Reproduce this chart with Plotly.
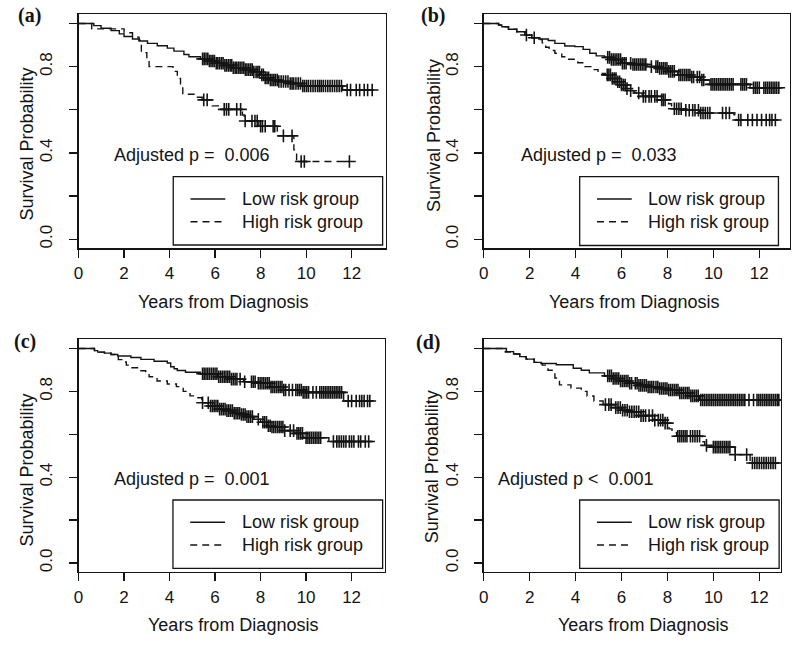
import plotly.graph_objects as go

W, H = 800, 645

# ---------------- data ----------------
panel_labels = ["(a)", "(b)", "(c)", "(d)"]
p_texts = ["Adjusted p =\u00a0 0.006", "Adjusted p =\u00a0 0.033",
           "Adjusted p =\u00a0 0.001", "Adjusted p <\u00a0 0.001"]
p_text_x = [5.0, 5.0, 5.0, 4.0]
p_text_y = [0.39, 0.39, 0.39, 0.39]
legend_names = ["Low risk group", "High risk group"]
x_ticks = [0, 2, 4, 6, 8, 10, 12]
y_ticks = [0.0, 0.2, 0.4, 0.6, 0.8, 1.0]
y_ticktext = ["0.0", "", "0.4", "", "0.8", ""]
x_title = "Years from Diagnosis"
y_title = "Survival Probability"

# Panel (a)
a_low_t = [0, 0.67, 0.99, 1.43, 1.79, 2.0, 2.37, 2.66, 3.03, 3.46, 3.9, 4.19, 4.63, 4.85, 5.36,
           5.7, 6.0, 6.4, 6.8, 7.3, 7.7, 8.0, 8.2, 8.4, 8.8, 9.3, 9.8, 11.6, 12.95]
a_low_s = [1, 0.99, 0.978, 0.967, 0.952, 0.94, 0.928, 0.919, 0.908, 0.897, 0.886, 0.872, 0.856, 0.846, 0.836,
           0.826, 0.816, 0.806, 0.795, 0.786, 0.775, 0.762, 0.748, 0.738, 0.731, 0.722, 0.71, 0.692, 0.692]
a_low_c = [5.45, 5.52, 5.6, 5.68, 5.75, 5.82, 5.9, 5.97, 6.05, 6.12, 6.2, 6.28, 6.35, 6.43, 6.5, 6.58, 6.66,
           6.73, 6.8, 6.88, 6.95, 7.03, 7.1, 7.18, 7.26, 7.33, 7.4, 7.48, 7.56, 7.63, 7.7, 7.8, 7.88, 7.95,
           8.05, 8.12, 8.2, 8.28, 8.35, 8.43, 8.5, 8.58, 8.65, 8.73, 8.8, 8.9, 9.0, 9.1, 9.2, 9.3, 9.38, 9.45,
           9.55, 9.65, 9.75, 9.85, 9.93, 10.02, 10.1, 10.2, 10.3, 10.4, 10.5, 10.58, 10.66, 10.75, 10.85,
           10.95, 11.05, 11.15, 11.25, 11.35, 11.45, 11.55, 11.8, 11.95, 12.2, 12.35, 12.55, 12.7, 12.9]
a_high_t = [0, 0.58, 2.0, 2.37, 2.66, 2.76, 3.0, 3.1, 4.15, 4.34, 4.48, 4.58, 5.07, 5.43, 5.87, 6.23,
            7.2, 7.28, 7.92, 8.73, 9.46, 9.58, 11.9]
a_high_s = [1, 0.975, 0.957, 0.937, 0.922, 0.865, 0.83, 0.80, 0.778, 0.745, 0.705, 0.672, 0.658, 0.646,
            0.618, 0.602, 0.576, 0.548, 0.524, 0.479, 0.414, 0.36, 0.36]
a_high_c = [5.5, 5.65, 6.4, 6.5, 6.6, 6.95, 7.12, 7.32, 7.62, 7.75, 7.85, 8.0, 8.08, 8.2, 8.55, 8.62,
            9.0, 9.38, 9.78, 9.92, 11.9]

# Panel (b)
b_low_t = [0, 0.65, 0.79, 1.08, 1.44, 1.8, 2.09, 2.4, 2.81, 3.1, 3.53, 3.97, 4.33, 4.62, 4.9, 5.26, 5.55,
           6.0, 6.5, 7.1, 7.6, 8.0, 8.45, 9.0, 9.45, 9.85, 11.6, 12.97]
b_low_s = [1, 0.993, 0.985, 0.973, 0.962, 0.947, 0.934, 0.928, 0.921, 0.908, 0.896, 0.893, 0.88, 0.862,
           0.85, 0.843, 0.833, 0.816, 0.81, 0.80, 0.792, 0.778, 0.761, 0.752, 0.738, 0.718, 0.702, 0.702]
b_low_c = [1.86, 2.2, 5.4, 5.48, 5.56, 5.64, 5.72, 5.8, 5.88, 5.96, 6.04, 6.12, 6.2, 6.4, 6.5, 6.58, 6.66,
           6.74, 6.82, 6.9, 6.98, 7.06, 7.3, 7.5, 7.58, 7.66, 7.74, 7.82, 7.9, 7.98, 8.06, 8.14, 8.22, 8.3,
           8.5, 8.58, 8.66, 8.74, 8.82, 8.9, 8.98, 9.06, 9.14, 9.3, 9.4, 9.5, 9.58, 9.9, 9.98, 10.06, 10.14,
           10.22, 10.3, 10.38, 10.46, 10.54, 10.62, 10.7, 10.78, 10.86, 11.2, 11.28, 11.36, 11.44, 11.75,
           11.83, 11.91, 12.0, 12.2, 12.28, 12.36, 12.44, 12.52, 12.6, 12.68, 12.76, 12.85]
b_high_t = [0, 0.65, 0.79, 1.08, 1.44, 1.8, 2.09, 2.4, 2.55, 2.7, 2.85, 3.1, 3.4, 3.7, 4.1, 4.4, 4.7,
            4.98, 5.3, 5.6, 5.8, 6.0, 6.2, 6.35, 6.55, 6.9, 7.6, 8.05, 8.18, 8.7, 9.4, 10.9, 11.0, 12.84]
b_high_s = [1, 0.993, 0.985, 0.973, 0.962, 0.947, 0.934, 0.926, 0.91, 0.89, 0.875, 0.862, 0.846, 0.834,
            0.818, 0.80, 0.786, 0.768, 0.762, 0.745, 0.73, 0.715, 0.698, 0.688, 0.678, 0.662, 0.646, 0.628,
            0.605, 0.598, 0.585, 0.577, 0.553, 0.553]
b_high_c = [5.38, 5.45, 5.52, 5.6, 5.68, 5.76, 5.84, 5.92, 6.0, 6.08, 6.16, 6.24, 6.4, 6.75, 6.95, 7.05,
            7.2, 7.3, 7.45, 7.55, 7.75, 7.82, 7.9, 8.3, 8.4, 8.5, 8.6, 8.8, 8.95, 9.1, 9.2, 9.35, 9.45, 9.55,
            9.65, 9.75, 9.85, 10.4, 10.55, 10.7, 11.1, 11.2, 11.5, 11.7, 11.9, 12.1, 12.3, 12.45, 12.55, 12.7]

# Panel (c)
c_low_t = [0, 0.7, 0.84, 1.14, 1.43, 1.72, 2.3, 2.74, 3.32, 3.9, 4.05, 4.2, 4.34, 4.7, 5.36, 6.1, 6.67,
           7.25, 7.83, 8.42, 9.0, 9.87, 11.65, 12.93]
c_low_s = [1, 0.99, 0.983, 0.978, 0.972, 0.965, 0.958, 0.949, 0.94, 0.932, 0.915, 0.905, 0.897, 0.889,
           0.882, 0.868, 0.857, 0.845, 0.838, 0.82, 0.806, 0.795, 0.755, 0.755]
c_low_c = [5.45, 5.52, 5.6, 5.68, 5.76, 5.84, 5.92, 6.0, 6.08, 6.16, 6.24, 6.32, 6.4, 6.48, 6.56, 6.64,
           6.72, 6.8, 6.88, 6.96, 7.1, 7.3, 7.6, 7.68, 7.76, 7.9, 7.98, 8.06, 8.14, 8.22, 8.3, 8.38, 8.46,
           8.54, 8.62, 8.7, 8.78, 8.86, 8.94, 9.02, 9.1, 9.25, 9.4, 9.55, 9.63, 9.71, 9.79, 9.87, 9.95,
           10.03, 10.11, 10.3, 10.45, 10.6, 10.68, 10.76, 10.84, 10.92, 11.0, 11.08, 11.16, 11.24, 11.32,
           11.4, 11.48, 11.56, 11.85, 12.0, 12.2, 12.35, 12.45, 12.55, 12.7, 12.8]
c_high_t = [0, 0.7, 0.84, 1.14, 1.43, 1.6, 1.75, 1.9, 2.1, 2.35, 2.7, 2.95, 3.1, 3.45, 3.9, 4.3, 4.6,
            4.9, 5.1, 5.42, 5.8, 6.2, 6.5, 6.8, 7.1, 7.4, 7.7, 8.0, 8.3, 8.5, 9.0, 9.5, 9.9, 11.0, 12.93]
c_high_s = [1, 0.99, 0.983, 0.978, 0.972, 0.96, 0.948, 0.937, 0.922, 0.91, 0.896, 0.882, 0.868, 0.848,
            0.834, 0.822, 0.8, 0.779, 0.77, 0.747, 0.732, 0.717, 0.71, 0.698, 0.692, 0.682, 0.67, 0.656,
            0.64, 0.634, 0.617, 0.604, 0.584, 0.566, 0.566]
c_high_c = [5.45, 5.7, 5.8, 5.88, 5.96, 6.04, 6.12, 6.2, 6.28, 6.36, 6.44, 6.52, 6.6, 6.68, 6.76, 6.84,
            6.92, 7.0, 7.08, 7.16, 7.24, 7.32, 7.4, 7.48, 7.56, 7.64, 7.9, 8.1, 8.18, 8.26, 8.34, 8.42, 8.5,
            8.58, 8.66, 8.74, 8.82, 8.9, 8.98, 9.06, 9.3, 9.45, 9.6, 9.68, 9.76, 9.84, 10.0, 10.08, 10.16,
            10.24, 10.32, 10.4, 10.48, 10.56, 10.64, 11.2, 11.35, 11.45, 11.55, 11.65, 11.75, 11.9, 12.0,
            12.1, 12.3, 12.4, 12.6, 12.75]

# Panel (d)
d_low_t = [0, 0.99, 1.3, 1.57, 1.85, 2.2, 2.5, 3.16, 3.9, 4.25, 4.6, 5.26, 5.6, 5.9, 6.3, 6.7, 7.1, 7.6,
           8.0, 8.5, 9.0, 9.4, 12.87]
d_low_s = [1, 0.985, 0.974, 0.962, 0.95, 0.935, 0.93, 0.924, 0.908, 0.898, 0.886, 0.872, 0.86, 0.848,
           0.838, 0.828, 0.82, 0.813, 0.806, 0.792, 0.779, 0.76, 0.76]
d_low_c = [5.4, 5.48, 5.56, 5.64, 5.72, 5.8, 5.88, 5.96, 6.04, 6.12, 6.2, 6.28, 6.36, 6.44, 6.6, 6.68,
           6.76, 6.84, 6.92, 7.0, 7.08, 7.16, 7.24, 7.32, 7.4, 7.5, 7.58, 7.66, 7.74, 7.82, 7.9, 7.98, 8.06,
           8.14, 8.22, 8.3, 8.38, 8.46, 8.54, 8.62, 8.7, 8.78, 8.86, 8.94, 9.02, 9.1, 9.18, 9.26, 9.34, 9.45,
           9.53, 9.61, 9.69, 9.77, 9.85, 9.93, 10.01, 10.09, 10.17, 10.25, 10.33, 10.41, 10.49, 10.57,
           10.65, 10.73, 10.81, 10.89, 10.97, 11.05, 11.13, 11.21, 11.29, 11.37, 11.55, 11.75, 11.9, 11.98,
           12.06, 12.14, 12.22, 12.3, 12.38, 12.46, 12.54, 12.62, 12.7, 12.78, 12.85]
d_high_t = [0, 0.94, 1.3, 1.57, 1.85, 2.2, 2.4, 2.55, 2.8, 3.1, 3.3, 3.8, 4.25, 4.5, 4.8, 5.2, 5.65, 6.0,
            6.3, 6.85, 7.4, 7.85, 8.07, 8.2, 8.4, 9.5, 9.62, 9.85, 10.95, 11.6, 12.85]
d_high_s = [1, 0.983, 0.974, 0.962, 0.95, 0.935, 0.93, 0.922, 0.898, 0.862, 0.83, 0.815, 0.8, 0.778,
            0.755, 0.738, 0.724, 0.712, 0.705, 0.687, 0.666, 0.652, 0.625, 0.608, 0.591, 0.565, 0.548,
            0.54, 0.505, 0.466, 0.466]
d_high_c = [5.3, 5.45, 5.55, 5.75, 5.85, 5.95, 6.05, 6.15, 6.25, 6.35, 6.45, 6.55, 6.65, 6.75, 6.85,
            6.95, 7.05, 7.2, 7.35, 7.45, 7.6, 7.7, 7.8, 7.9, 8.0, 8.45, 8.53, 8.61, 8.69, 8.77, 8.85, 9.0,
            9.1, 9.2, 9.3, 9.4, 9.7, 10.0, 10.08, 10.16, 10.24, 10.32, 10.4, 10.48, 10.56, 10.64, 10.72,
            10.95, 11.45, 11.7, 11.8, 11.9, 12.0, 12.1, 12.2, 12.3, 12.4, 12.5, 12.6, 12.7]

x_max = [13.49, 13.34, 13.45, 12.95]

curves = [
    (a_low_t, a_low_s, a_low_c, a_high_t, a_high_s, a_high_c),
    (b_low_t, b_low_s, b_low_c, b_high_t, b_high_s, b_high_c),
    (c_low_t, c_low_s, c_low_c, c_high_t, c_high_s, c_high_c),
    (d_low_t, d_low_s, d_low_c, d_high_t, d_high_s, d_high_c),
]

# ---------------- layout (pixel boxes) ----------------
boxes = [(74, 14, 383, 248.3), (481.7, 14, 790, 248.3),
         (74, 339, 382, 572), (481.7, 339, 781, 572)]
legend_boxes = [(169.3, 176.7, 380, 245), (578.3, 176.7, 778.3, 245.5),
                (169, 500, 380, 568.3), (578.3, 500, 779, 568.3)]
label_pos = [(24.7, 15), (430.5, 15), (20, 341), (426, 342)]
xtitle_pos = [(219, 302), (632.5, 302), (229, 625), (642.5, 625)]
ytitle_pos = [(21.7, 144), (431.7, 136), (21.7, 470), (430, 467)]

INK = "#141414"
SANS = "Liberation Sans, Arial, sans-serif"
SERIF = "Liberation Serif, Times New Roman, serif"


def fx(px):
    return px / W


def fy(py):
    return 1 - py / H


def step_value(ts, ss, t):
    v = ss[0]
    for ti, si in zip(ts, ss):
        if ti <= t:
            v = si
        else:
            break
    return v


fig = go.Figure()
layout = dict(width=W, height=H, margin=dict(l=0, r=0, t=0, b=0),
              paper_bgcolor="white", plot_bgcolor="white", showlegend=False,
              shapes=[], annotations=[])

for i, (lt, ls, lc, ht, hs, hc) in enumerate(curves):
    k = "" if i == 0 else str(i + 1)
    xa, ya = "x" + k, "y" + k
    fig.add_trace(go.Scatter(x=lt, y=ls, mode="lines", line=dict(color=INK, width=1.4, shape="hv"),
                             xaxis=xa, yaxis=ya, name=legend_names[0], hoverinfo="skip"))
    fig.add_trace(go.Scatter(x=ht, y=hs, mode="lines",
                             line=dict(color=INK, width=1.4, shape="hv", dash="7px,5px"),
                             xaxis=xa, yaxis=ya, name=legend_names[1], hoverinfo="skip"))
    for ts, ss, cs in ((lt, ls, lc), (ht, hs, hc)):
        fig.add_trace(go.Scatter(x=cs, y=[step_value(ts, ss, c) for c in cs], mode="markers",
                                 marker=dict(symbol="cross-thin", size=9,
                                             line=dict(color=INK, width=1.6)),
                                 xaxis=xa, yaxis=ya, hoverinfo="skip"))

    x0, y0, x1, y1 = boxes[i]
    common = dict(showline=True, mirror=True, linecolor=INK, linewidth=1.3,
                  ticks="outside", ticklen=8, tickwidth=1.3, tickcolor=INK,
                  showgrid=False, zeroline=False,
                  tickfont=dict(family=SANS, size=17, color=INK))
    layout["xaxis" + k] = dict(common, domain=[fx(x0), fx(x1)], range=[0, x_max[i]],
                               tickvals=x_ticks, anchor=ya, ticklabelstandoff=1)
    layout["yaxis" + k] = dict(common, domain=[fy(y1), fy(y0)], range=[-0.042, 1.044],
                               tickvals=y_ticks, ticktext=y_ticktext, tickangle=-90,
                               anchor=xa, ticklabelstandoff=10)

    center = dict(xref="paper", yref="paper", showarrow=False, xanchor="center", yanchor="middle")
    layout["annotations"].append(dict(center, text="<b>%s</b>" % panel_labels[i], x=fx(label_pos[i][0]),
                                      y=fy(label_pos[i][1]),
                                      font=dict(family=SERIF, size=20, color=INK)))
    layout["annotations"].append(dict(center, text=x_title, x=fx(xtitle_pos[i][0]), y=fy(xtitle_pos[i][1]),
                                      font=dict(family=SANS, size=18, color=INK)))
    layout["annotations"].append(dict(center, text=y_title, x=fx(ytitle_pos[i][0]), y=fy(ytitle_pos[i][1]),
                                      textangle=-90, font=dict(family=SANS, size=18, color=INK)))
    layout["annotations"].append(dict(text=p_texts[i], x=p_text_x[i], y=p_text_y[i], xref=xa, yref=ya,
                                      xanchor="center", yanchor="middle",
                                      showarrow=False, font=dict(family=SANS, size=18, color=INK)))

    lx0, ly0, lx1, ly1 = legend_boxes[i]
    layout["shapes"].append(dict(type="rect", xref="paper", yref="paper",
                                 x0=fx(lx0), x1=fx(lx1), y0=fy(ly1), y1=fy(ly0),
                                 line=dict(color=INK, width=1.3), fillcolor="white", layer="above"))
    for j, (off, dash) in enumerate(((22.3, "solid"), (45.0, "7px,5px"))):
        layout["shapes"].append(dict(type="line", xref="paper", yref="paper",
                                     x0=fx(lx0 + 17.4), x1=fx(lx0 + 52.4),
                                     y0=fy(ly0 + off), y1=fy(ly0 + off),
                                     line=dict(color=INK, width=1.4, dash=dash), layer="above"))
        layout["annotations"].append(dict(text=legend_names[j], x=fx(lx0 + 67), y=fy(ly0 + off),
                                          xref="paper", yref="paper", xanchor="left", yanchor="middle",
                                          showarrow=False, font=dict(family=SANS, size=18, color=INK)))

fig.update_layout(**layout)
fig.write_html("out.html", config={"displayModeBar": False, "staticPlot": True},
               post_script="document.body.style.margin='0';")
